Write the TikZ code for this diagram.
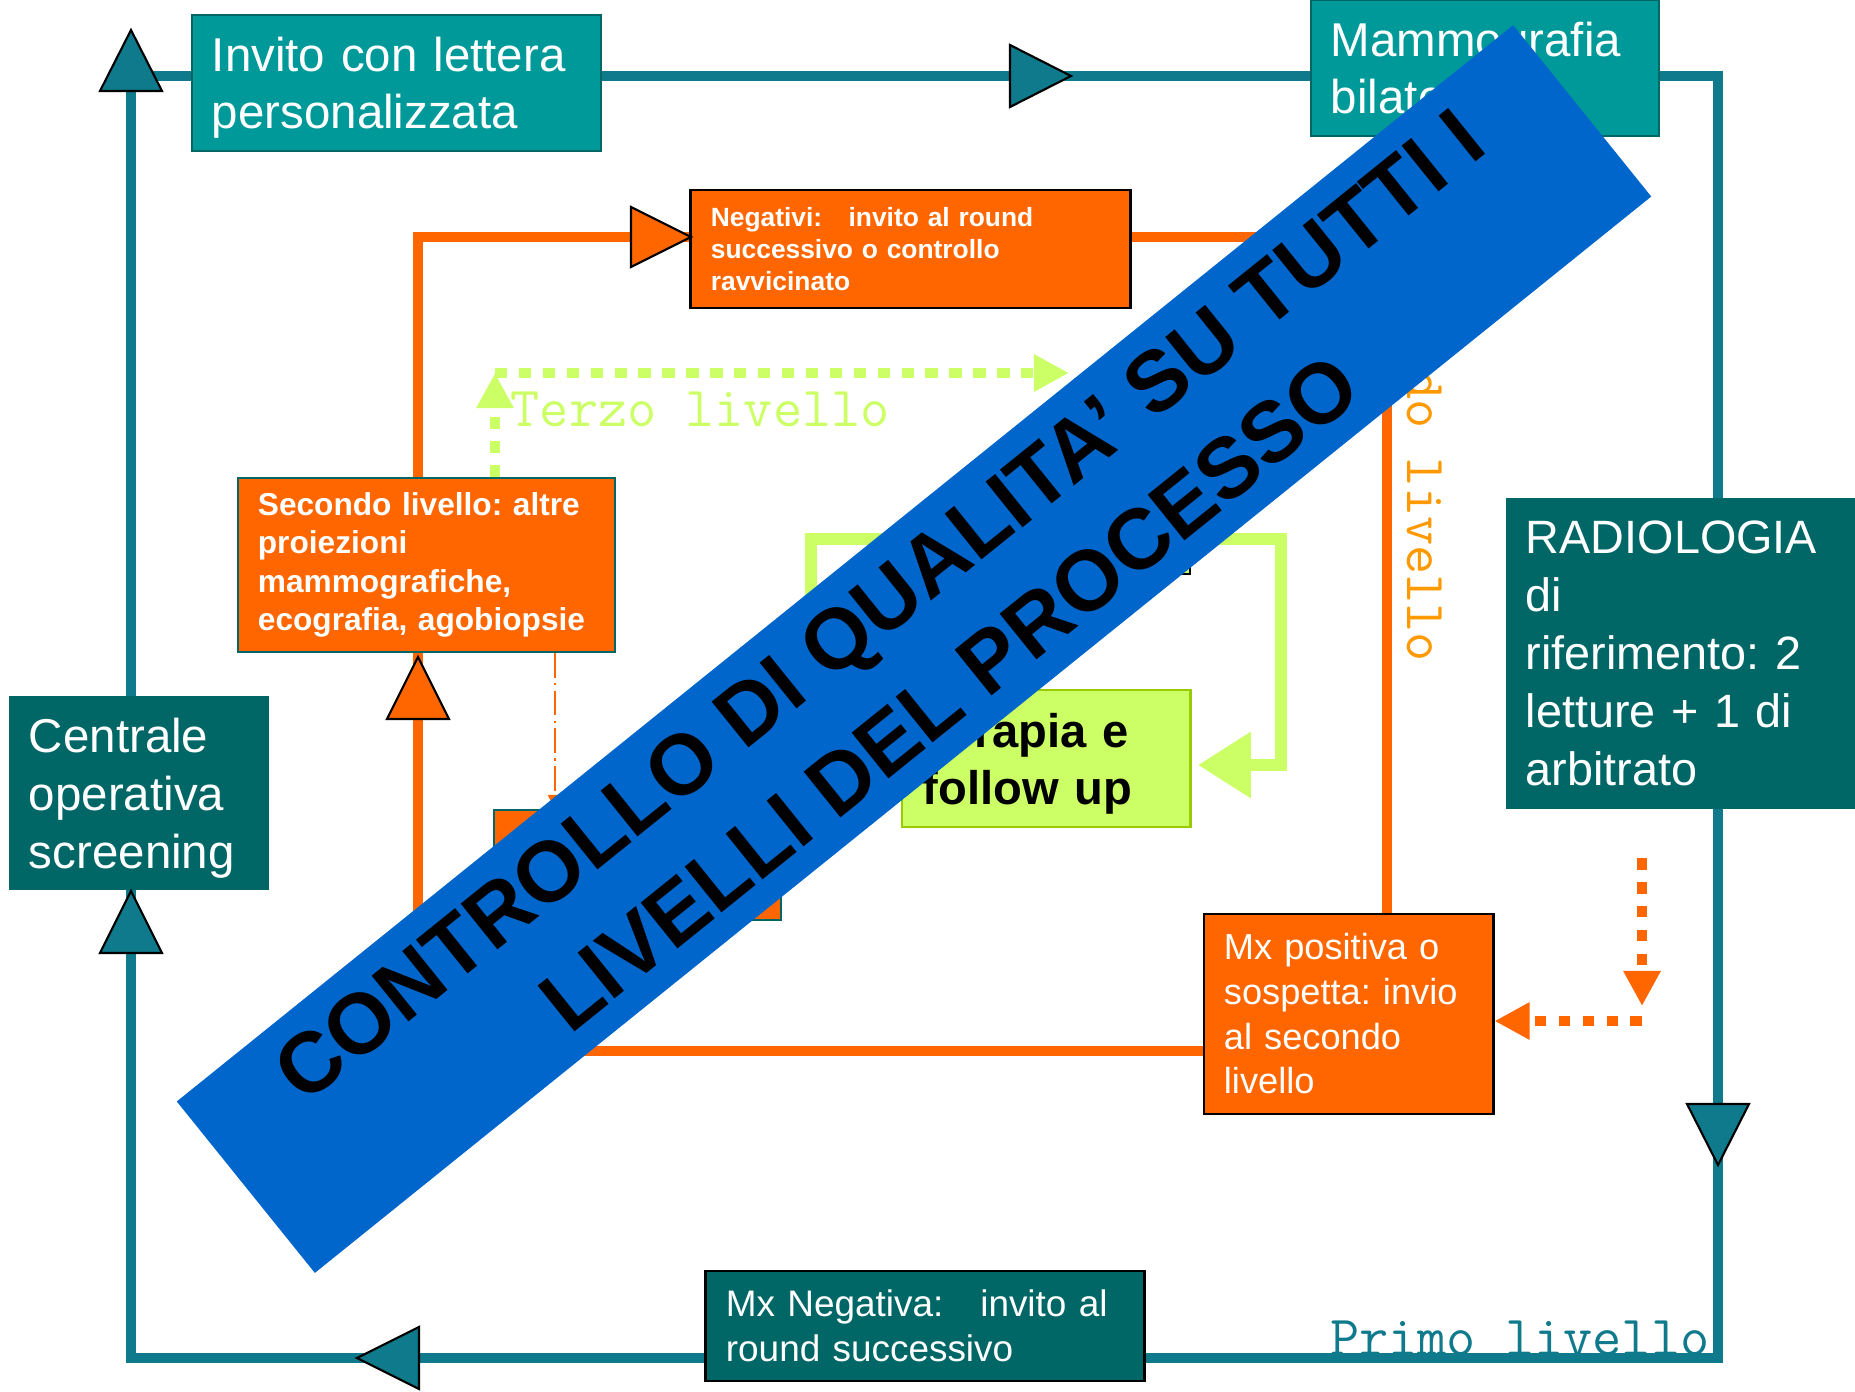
\documentclass[tikz,border=0pt]{standalone}
\usepackage{fontspec}
\setmainfont{Liberation Sans}
\usetikzlibrary{arrows.meta}
\frenchspacing

\definecolor{cLoop}{RGB}{14,122,140}
\definecolor{cBoxTeal}{HTML}{009999}
\definecolor{cDarkTeal}{HTML}{006666}
\definecolor{cOrange}{HTML}{FF6600}
\definecolor{cLabel}{HTML}{FF9900}
\definecolor{cLime}{HTML}{CCFF66}
\definecolor{cLimeEdge}{HTML}{99CC00}
\definecolor{cBlue}{HTML}{0066CC}

\begin{document}
\begin{tikzpicture}[x=0.01cm, y=-0.01cm,
  outerloop/.style={draw=cLoop, line width=3pt},
  innerloop/.style={draw=cOrange, line width=3pt},
  limeloop/.style={draw=cLime, line width=3.3pt},
  headtri/.style={draw=black, line width=0.6pt},
  box/.style={rectangle, inner xsep=0.2cm, inner ysep=0pt, align=left, text=white},
  lightbox/.style={box, fill=cBoxTeal, draw=cDarkTeal, line width=0.5pt},
  darkbox/.style={box, fill=cDarkTeal},
  orangebox/.style={box, fill=cOrange, draw=black, line width=0.8pt},
  limebox/.style={box, fill=cLime, draw=cLimeEdge, line width=0.8pt, text=black},
  dotorange/.style={draw=cOrange, line width=3pt, dash pattern=on 3.3pt off 3.5pt, -{Triangle[width=10pt,length=10pt]}},
  dotlime/.style={draw=cLime, line width=3pt, dash pattern=on 3.5pt off 3.3pt, -{Triangle[width=10pt,length=10pt]}},
  levellabel/.style={inner sep=0pt, font=\ttfamily\fontsize{16.1}{19}\selectfont},
  banner/.style={fill=cBlue, inner sep=0pt, align=center, font=\bfseries\fontsize{24.3}{31.8}\selectfont}]

\fill[white] (0,0) rectangle (1855,1391);
\useasboundingbox (0,0) rectangle (1855,1391);

% Primo livello loop
\coordinate (p1) at (131,1358);
\coordinate (p2) at (131,76);
\coordinate (p3) at (1718,76);
\coordinate (p4) at (1718,1358);
\draw[outerloop] (p1) -- (p2) -- (p3) -- (p4) -- cycle;

% Secondo livello loop
\coordinate (s1) at (418,1051);
\coordinate (s2) at (418,237);
\coordinate (s3) at (1387,237);
\coordinate (s4) at (1387,1051);
\draw[innerloop] (s1) -- (s2) -- (s3) -- (s4) -- cycle;

% Boxes
\node[lightbox, minimum width=4.09cm, minimum height=1.36cm, text width=3.69cm,
  font=\fontsize{13.5}{16.2}\selectfont] (invito) at (396.5,83) {Invito con lettera\\\smash{personalizzata}};
\node[lightbox, minimum width=3.48cm, minimum height=1.36cm, text width=3.08cm,
  font=\fontsize{13.5}{16.2}\selectfont] (mammo) at (1485,68) {Mammografia\\bilaterale};
\node[darkbox, minimum width=2.60cm, minimum height=1.94cm, text width=2.20cm,
  font=\fontsize{13.5}{16.5}\selectfont] (centrale) at (139,793) {Centrale\\operativa\\\smash{screening}};
\node[darkbox, minimum width=3.49cm, minimum height=3.11cm, text width=3.09cm,
  font=\fontsize{13.3}{16.45}\selectfont] (radio) at (1680.5,653.5) {RADIOLOGIA\\di\\riferimento: 2\\letture + 1 di\\arbitrato};
\node[darkbox, draw=black, line width=0.8pt, minimum width=4.38cm, minimum height=1.10cm, text width=3.98cm,
  font=\fontsize{10.5}{12.8}\selectfont] (mxneg) at (925,1326) {Mx Negativa:\ \ \ invito al\\round successivo};
\node[orangebox, minimum width=4.39cm, minimum height=1.18cm, text width=3.99cm,
  font=\bfseries\fontsize{7.5}{9.1}\selectfont] (negativi) at (910.5,249) {Negativi:\ \ \ invito al round\\successivo o controllo\\ravvicinato};
\node[orangebox, draw=cDarkTeal, line width=0.6pt, minimum width=3.77cm, minimum height=1.74cm, text width=3.37cm,
  font=\bfseries\fontsize{9}{10.9}\selectfont] (secondo) at (426.5,565) {Secondo livello: altre\\proiezioni\\mammografiche,\\ecografia, agobiopsie};
\node[orangebox, minimum width=2.89cm, minimum height=2.00cm, text width=2.49cm,
  font=\fontsize{10.3}{12.7}\selectfont] (mxpos) at (1348.5,1014) {Mx positiva o\\sospetta: invio\\al secondo\\livello};
\node[orangebox, draw=cDarkTeal, line width=0.6pt, minimum width=2.87cm, minimum height=1.10cm] (chirurgia) at (637.5,865) {};

% Terzo livello loop
\node[limebox, minimum width=2.88cm, minimum height=1.37cm, text width=2.46cm,
  font=\bfseries\fontsize{13.4}{16.2}\selectfont] (terapia) at (1046,758.5) {Terapia e\\\smash{follow up}};
\coordinate (limein) at (1198,765);
\draw[limeloop, -{Triangle[width=18pt,length=15pt]}] (terapia.west |- limein) -- (811,765) |- (1281,539) |- (limein);
\node[limebox, draw=black, minimum width=2.50cm, minimum height=0.54cm] (terzobox) at (1065,547) {};

% Arrow heads on the loops
\filldraw[headtri, fill=cLoop] (131,30) -- (162,91) -- (100,91) -- cycle;
\filldraw[headtri, fill=cLoop] (1071,76) -- (1010,45) -- (1010,107) -- cycle;
\filldraw[headtri, fill=cLoop] (1718,1165) -- (1687,1104) -- (1749,1104) -- cycle;
\filldraw[headtri, fill=cLoop] (357,1358) -- (419,1327) -- (419,1389) -- cycle;
\filldraw[headtri, fill=cLoop] (131,891) -- (162,953) -- (100,953) -- cycle;
\filldraw[headtri, fill=cOrange] (691,237) -- (631,207) -- (631,267) -- cycle;
\filldraw[headtri, fill=cOrange] (418,657) -- (449,719) -- (387,719) -- cycle;

% Dotted arrows
\coordinate (mxdot) at (1642,858);
\coordinate (mxturn) at (1642,1006);
\draw[dotorange] (mxdot) -- (mxturn);
\draw[dotorange] (mxturn |- 0,1021) -- (mxpos.east |- 0,1021);
\coordinate (terzotip) at (495,373);
\coordinate (terzoend) at (1069,373);
\draw[dotlime] (secondo.north -| terzotip) -- (terzotip);
\draw[dotlime] (terzotip) -- (terzoend);
\draw[draw=cOrange, line width=0.8pt, dash pattern=on 7pt off 1.5pt on 0.7pt off 1.5pt,
  -{Triangle[width=4pt,length=4pt]}] (secondo.south -| 555,0) -- (chirurgia.north -| 555,0);

% Labels
\node[levellabel, text=cLime, anchor=base west] (terzo) at (510,426) {Terzo livello};
\node[levellabel, text=cLoop, anchor=base east] (primo) at (1710,1355) {Primo livello};
\node[levellabel, text=cLabel, anchor=base west, rotate=-90] (secondolab) at (1407,224) {Secondo livello};

% Banner
\node[banner, rotate=38.85, minimum width=17.15cm, minimum height=2.2cm] (qualita) at (914,649)
  {CONTROLLO DI QUALITA’ SU TUTTI I\\LIVELLI DEL PROCESSO};

\end{tikzpicture}
\end{document}
